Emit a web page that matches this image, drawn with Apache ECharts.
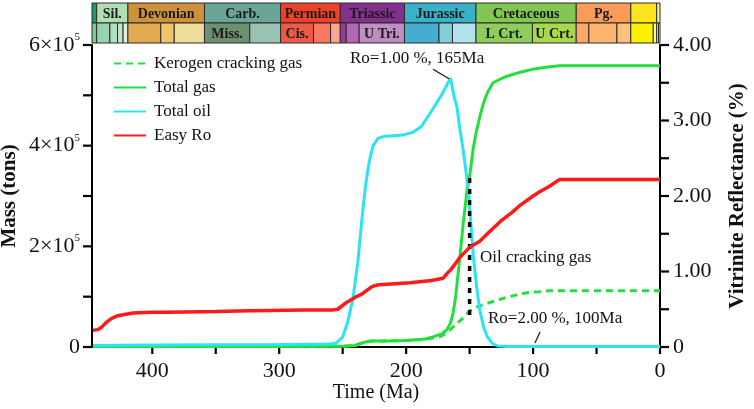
<!DOCTYPE html>
<html>
<head>
<meta charset="utf-8">
<script src="https://cdn.jsdelivr.net/npm/echarts@6/dist/echarts.min.js"></script>
<style>
  html, body { margin: 0; padding: 0; background: #fff; }
  #chart-box { width: 754px; height: 409px; }
</style>
</head>
<body>
<div id="chart-box"></div>
<script>
// time (Ma), values
const kerogenGas = [
  [447.5, 1000], [400, 1000], [300, 1000], [250, 1500], [240, 3000], [236, 7000], [232, 10000],
  [228, 12000], [215, 12000], [200, 13000], [185, 15000], [179, 18000], [173, 21000], [168, 28000],
  [163, 40000], [160, 46000], [155, 58000], [152, 66000], [150, 72000], [145, 79000], [136, 87000],
  [128, 93000], [120.5, 99000], [110, 105000], [102, 109000], [94.5, 110000], [87, 112000], [0, 112000]
];
const totalGas = [
  [447.5, 1000], [400, 1000], [300, 1000], [250, 1500], [240, 3000], [236, 7000], [232, 10000],
  [228, 12000], [215, 12000], [200, 13000], [185, 16000], [179, 20000], [172, 26000], [168, 34000],
  [165, 48000], [163, 68000], [161, 100000], [159, 147000], [157, 195000], [155, 246000], [152, 312000],
  [150, 338000], [147, 397000], [144.5, 430000], [142, 457000], [139, 485000], [136, 505000],
  [131.5, 525000], [126, 532000], [120.5, 538000], [110, 546000], [100, 552000], [90, 556000],
  [79, 559000], [0, 559000]
];
const totalOil = [
  [447.5, 3000], [400, 4000], [300, 5000], [260, 6000], [255, 8000], [252, 15000], [250, 20000],
  [246, 50000], [242, 95000], [238, 170000], [235, 250000], [232, 320000], [229, 370000], [226, 400000],
  [222, 415000], [218, 418000], [213, 419000], [203, 421000], [195, 426000], [188, 438000], [181, 465000],
  [176, 485000], [172, 501000], [168, 520000], [165, 534000], [162, 495000], [160, 477000], [157.5, 430000],
  [155, 391000], [151, 312000], [147, 179000], [144.5, 120000], [142, 74000], [139, 40000], [136, 20000],
  [132, 7000], [128, 2000], [120, 1000], [0, 1000]
];
const easyRo = [
  [447.5, 0.22], [443, 0.23], [440, 0.26], [436, 0.33], [432, 0.38], [428, 0.41], [422, 0.43],
  [415, 0.45], [400, 0.46], [388, 0.46], [350, 0.47], [323, 0.48], [280, 0.49], [258, 0.49],
  [254, 0.5], [250, 0.55], [247, 0.59], [244, 0.62], [240, 0.66], [235, 0.7], [231, 0.75], [227, 0.8],
  [223, 0.82], [215, 0.83], [197, 0.85], [180, 0.88], [171, 0.91], [168, 0.97], [165, 1.02],
  [160, 1.13], [157.6, 1.19], [154, 1.25], [150, 1.32], [142, 1.4], [136, 1.5], [126, 1.66],
  [116, 1.79], [110, 1.88], [100, 2.0], [94.5, 2.06], [87, 2.13], [79, 2.22], [0, 2.22]
];
const oilCrackLine = [[150, 336000], [150, 54000]];

const seriesNames = ['Kerogen cracking gas', 'Total gas', 'Total oil', 'Easy Ro'];
const timeTicks = [400, 350, 300, 250, 200, 150, 100, 50, 0];
const massTicks = [0, 100000, 200000, 300000, 400000, 500000, 600000];
const roTicks = [0, 0.5, 1, 1.5, 2, 2.5, 3, 3.5, 4];

// geologic time scale: periods (top row) and epochs (bottom row)
const periodLabels = ['', 'Sil.', 'Devonian', 'Carb.', 'Permian', 'Triassic', 'Jurassic', 'Cretaceous', 'Pg.', '', ''];
const periodStart = [447.5, 443.8, 419.2, 358.9, 298.9, 251.9, 201.3, 145.0, 66.0, 23.0, 2.6];
const periodEnd = [443.8, 419.2, 358.9, 298.9, 251.9, 201.3, 145.0, 66.0, 23.0, 2.6, 0];
const periodColors = ['#1c9873', '#b1dfb4', '#cf913c', '#6aa597', '#ef4029', '#83308f', '#38b2c9', '#80c650', '#fb9b58', '#fde41e', '#f5f383'];

const epochLabels = ['', '', '', '', '', '', '', '', 'Miss.', '', 'Cis.', '', '', '', '', 'U Tri.', '', '', '', 'L Crt.', 'U Crt.', '', '', '', '', '', '', ''];
const epochStart = [447.5, 443.8, 433.4, 427.4, 423.0, 419.2, 393.3, 382.7, 358.9, 323.2, 298.9, 273.0, 259.5, 251.9, 247.2, 237.0, 201.3, 174.1, 163.5, 145.0, 100.5, 66.0, 56.0, 33.9, 23.0, 5.3, 2.6, 1.2];
const epochEnd = [443.8, 433.4, 427.4, 423.0, 419.2, 393.3, 382.7, 358.9, 323.2, 298.9, 273.0, 259.5, 251.9, 247.2, 237.0, 201.3, 174.1, 163.5, 145.0, 100.5, 66.0, 56.0, 33.9, 23.0, 5.3, 2.6, 1.2, 0];
const epochColors = ['#7cc794', '#97d5b0', '#b1dfc0', '#bfe5cc', '#e2f3de', '#e3ab4f', '#efc569', '#efdd9c', '#6d9170', '#9ac3b4', '#ee5a46', '#f9775e', '#f9a793', '#9a3c9b', '#b268b0', '#be8dc2', '#45aed0', '#82cfd8', '#b2e2ec', '#8ecd59', '#a8d84d', '#fca762', '#fcb46e', '#fcc07b', '#fff200', '#fffa8e', '#fff2ae', '#fcecc8'];

const SERIF = '"Liberation Serif", "Times New Roman", serif';
const X_MAX = 447.5;

function scaleRow(labels, starts, ends, colors, row) {
  return {
    type: 'custom',
    xAxisIndex: 1,
    yAxisIndex: 2,
    silent: true,
    z: 1,
    data: starts.map((s, i) => [s, ends[i], row]),
    renderItem: function (params, api) {
      const i = params.dataIndex;
      const p0 = api.coord([api.value(0), api.value(2) + 1]);
      const p1 = api.coord([api.value(1), api.value(2)]);
      const children = [{
        type: 'rect',
        shape: {x: p0[0], y: p0[1], width: p1[0] - p0[0], height: p1[1] - p0[1]},
        style: {fill: colors[i], stroke: '#2b2b2b', lineWidth: 1}
      }];
      if (labels[i]) {
        children.push({
          type: 'text',
          style: {
            text: labels[i],
            x: (p0[0] + p1[0]) / 2,
            y: (p0[1] + p1[1]) / 2 + 1,
            textAlign: 'center',
            textVerticalAlign: 'middle',
            font: 'bold 14px ' + SERIF,
            fill: '#1a1a1a'
          }
        });
      }
      return {type: 'group', children: children};
    }
  };
}

// outward tick marks, placed through the axes' own scales
function tickSeries(values, yAxisIndex, side) {
  return {
    type: 'custom',
    xAxisIndex: 0,
    yAxisIndex: yAxisIndex,
    silent: true,
    clip: false,
    data: values.map(v => [v]),
    renderItem: function (params, api) {
      const v = api.value(0);
      let p, shape;
      if (side === 'bottom') {
        p = api.coord([v, 0]);
        shape = {x1: p[0], y1: p[1], x2: p[0], y2: p[1] + 7};
      } else if (side === 'left') {
        p = api.coord([X_MAX, v]);
        shape = {x1: p[0] - 9, y1: p[1], x2: p[0], y2: p[1]};
      } else {
        p = api.coord([0, v]);
        shape = {x1: p[0], y1: p[1], x2: p[0] + 9, y2: p[1]};
      }
      return {type: 'line', shape: shape, style: {stroke: '#000', lineWidth: 2.2}};
    }
  };
}

const chart = echarts.init(document.getElementById('chart-box'));
const axisLineStyle = {color: '#000', width: 2};

chart.setOption({
  animation: false,
  textStyle: {fontFamily: SERIF},
  grid: [
    {left: 92, right: 94, top: 45, bottom: 62, outerBoundsMode: 'none', containLabel: false},
    {left: 92, right: 94, top: 3, height: 40, outerBoundsMode: 'none', containLabel: false}
  ],
  legend: {
    data: seriesNames,
    orient: 'vertical',
    left: 108,
    top: 50,
    itemWidth: 32,
    itemHeight: 12,
    itemGap: 7,
    itemStyle: {opacity: 0},
    textStyle: {fontSize: 17, fontFamily: SERIF, color: '#111', padding: [0, 0, 0, 3]}
  },
  xAxis: [{
    type: 'value',
    inverse: true,
    min: 0,
    max: X_MAX,
    interval: 50,
    gridIndex: 0,
    axisLine: {lineStyle: axisLineStyle, onZero: false},
    axisTick: {show: false},
    axisLabel: {
      fontSize: 22, color: '#111', margin: 13, fontFamily: SERIF, align: 'center',
      showMaxLabel: false,
      formatter: function (v) { return v % 100 === 0 ? String(v) : ''; }
    },
    splitLine: {show: false},
    name: 'Time (Ma)',
    nameLocation: 'middle',
    nameGap: 36,
    nameMoveOverlap: false,
    nameTextStyle: {fontSize: 20, color: '#111', fontFamily: SERIF}
  }, {
    type: 'value',
    inverse: true,
    min: 0,
    max: X_MAX,
    gridIndex: 1,
    show: false
  }],
  yAxis: [{
    type: 'value',
    min: 0,
    max: 600000,
    interval: 100000,
    gridIndex: 0,
    z: 5,
    axisLine: {show: true, lineStyle: axisLineStyle, onZero: false},
    axisTick: {show: false},
    axisLabel: {
      margin: 12,
      formatter: function (v) {
        if (v === 0) return '{a|0}';
        if (v % 200000 !== 0) return '';
        return '{a|' + (v / 100000) + '×10}{s|5}';
      },
      rich: {
        a: {fontSize: 22, color: '#111', fontFamily: SERIF},
        s: {fontSize: 11, color: '#111', fontFamily: SERIF, verticalAlign: 'top', padding: [0, 0, 16, 0]}
      }
    },
    splitLine: {show: false},
    name: 'Mass (tons)',
    nameLocation: 'middle',
    nameGap: 72,
    nameRotate: 90,
    nameMoveOverlap: false,
    nameTextStyle: {fontSize: 21, fontWeight: 'bold', color: '#111', fontFamily: SERIF}
  }, {
    type: 'value',
    min: 0,
    max: 4,
    interval: 0.5,
    gridIndex: 0,
    position: 'right',
    axisLine: {show: true, lineStyle: axisLineStyle, onZero: false},
    axisTick: {show: false},
    axisLabel: {
      margin: 13,
      fontSize: 22,
      color: '#111',
      fontFamily: SERIF,
      formatter: function (v) {
        if (v === 0) return '0';
        return Number.isInteger(v) ? v.toFixed(2) : '';
      }
    },
    splitLine: {show: false},
    name: 'Vitrinite Reflectance (%)',
    nameLocation: 'middle',
    nameGap: 67,
    nameRotate: 90,
    nameMoveOverlap: false,
    nameTextStyle: {fontSize: 21, fontWeight: 'bold', color: '#111', fontFamily: SERIF}
  }, {
    type: 'value',
    min: 0,
    max: 2,
    gridIndex: 1,
    show: false
  }],
  graphic: [
    {type: 'text', left: 350, top: 50, style: {text: 'Ro=1.00 %, 165Ma', font: '17px ' + SERIF, fill: '#111'}},
    {type: 'text', left: 480, top: 249, style: {text: 'Oil cracking gas', font: '17px ' + SERIF, fill: '#111'}},
    {type: 'text', left: 488, top: 310, style: {text: 'Ro=2.00 %, 100Ma', font: '17px ' + SERIF, fill: '#111'}}
  ],
  series: [
    scaleRow(periodLabels, periodStart, periodEnd, periodColors, 1),
    scaleRow(epochLabels, epochStart, epochEnd, epochColors, 0),
    tickSeries(timeTicks, 0, 'bottom'),
    tickSeries(massTicks, 0, 'left'),
    tickSeries(roTicks, 1, 'right'),
    {
      name: 'Kerogen cracking gas',
      type: 'line',
      data: kerogenGas,
      symbol: 'none',
      color: '#22e03a',
      lineStyle: {width: 3, type: [7, 5], color: '#22e03a'}
    },
    {
      name: 'Total gas',
      type: 'line',
      data: totalGas,
      symbol: 'none',
      color: '#22e03a',
      lineStyle: {width: 3, color: '#22e03a'}
    },
    {
      name: 'Total oil',
      type: 'line',
      data: totalOil,
      symbol: 'none',
      color: '#2ae4f2',
      lineStyle: {width: 3, color: '#2ae4f2'},
      markLine: {
        silent: true,
        symbol: 'none',
        label: {show: false},
        lineStyle: {color: '#111', width: 1.2, type: 'solid'},
        data: [
          [{coord: [178.8, 552000]}, {coord: [166.2, 533000]}],
          [{coord: [94.5, 30000]}, {coord: [98.5, 8000]}]
        ]
      }
    },
    {
      name: 'Oil cracking',
      type: 'line',
      data: oilCrackLine,
      symbol: 'none',
      color: '#000',
      lineStyle: {width: 3.5, type: [5, 6], color: '#000'}
    },
    {
      name: 'Easy Ro',
      type: 'line',
      yAxisIndex: 1,
      data: easyRo,
      symbol: 'none',
      color: '#ff1a1a',
      lineStyle: {width: 3.5, color: '#ff1a1a'}
    }
  ]
});
</script>
</body>
</html>
